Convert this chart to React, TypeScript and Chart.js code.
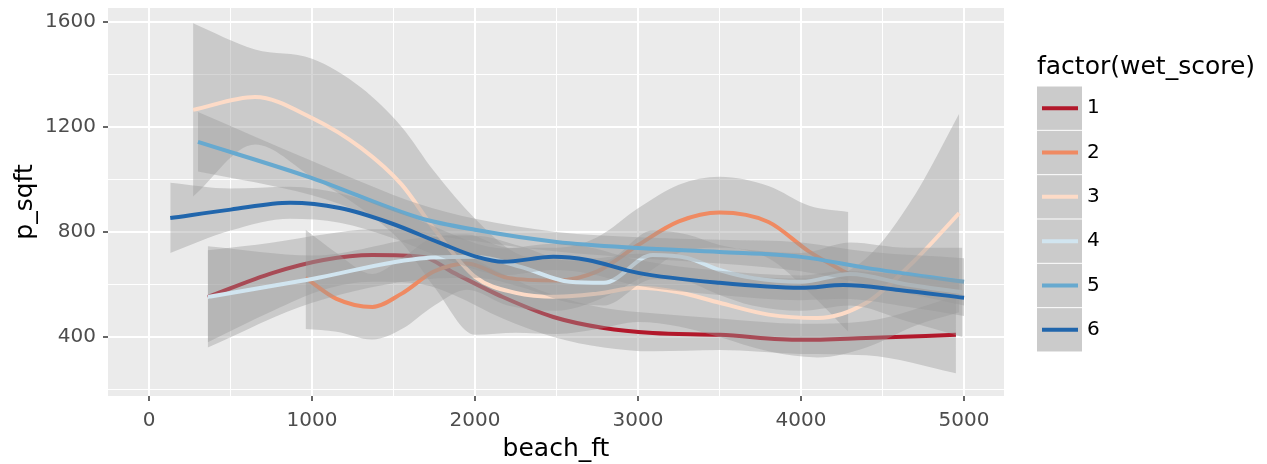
import React, { useEffect, useRef } from "react";
import { Chart, registerables } from "chart.js";

Chart.register(...registerables);

const FONT = '"DejaVu Sans", sans-serif';

// wet_score 1
const x1 = [360, 760, 1070, 1370, 1680, 1870, 2170, 2480, 2790, 3090, 3500, 4000, 4400, 4950];
const y1 = [552, 644, 693, 712, 705, 644, 552, 476, 434, 415, 408, 389, 396, 408];
const lo1 = [380, 500, 580, 610, 600, 560, 470, 400, 360, 345, 350, 335, 330, 262];
const hi1 = [730, 760, 790, 810, 800, 740, 640, 560, 510, 490, 470, 450, 460, 555];

// wet_score 2
const x2 = [960, 1150, 1370, 1550, 1750, 1950, 2200, 2500, 2750, 3000, 3250, 3500, 3800, 4050, 4290];
const y2 = [625, 545, 514, 565, 650, 680, 625, 615, 650, 750, 840, 874, 838, 725, 640];
const lo2 = [430, 420, 390, 430, 520, 580, 520, 500, 540, 620, 720, 740, 700, 570, 420];
const hi2 = [808, 720, 640, 700, 780, 790, 740, 740, 780, 890, 980, 1010, 975, 900, 876];

// wet_score 3
const x3 = [270, 650, 1000, 1300, 1550, 1750, 2000, 2250, 2500, 2750, 3000, 3250, 3500, 3800, 4100, 4400, 4700, 4970];
const y3 = [1265, 1314, 1234, 1120, 980, 810, 629, 568, 553, 565, 587, 570, 530, 485, 472, 530, 693, 872];
const lo3 = [935, 1133, 1008, 890, 760, 590, 408, 416, 411, 430, 457, 440, 400, 345, 322, 360, 443, 494];
const hi3 = [1595, 1495, 1460, 1350, 1200, 1030, 850, 720, 695, 700, 717, 700, 660, 625, 622, 700, 943, 1250];

// wet_score 4
const x4 = [360, 1000, 1700, 2000, 2280, 2580, 2790, 3090, 3300, 3500, 3700, 4000, 4300, 4650, 4990];
const y4 = [552, 621, 701, 705, 667, 610, 606, 712, 701, 655, 625, 610, 640, 600, 570];
const lo4 = [360, 530, 620, 625, 590, 530, 520, 620, 610, 560, 520, 500, 520, 460, 400];
const hi4 = [745, 710, 780, 785, 745, 690, 690, 805, 790, 750, 730, 720, 760, 740, 740];

// wet_score 5
const x5 = [300, 1000, 1660, 2000, 2500, 3000, 3500, 4000, 4400, 5000];
const y5 = [1143, 1005, 853, 808, 762, 739, 724, 705, 663, 610];
const lo5 = [1030, 940, 800, 765, 725, 700, 680, 650, 600, 520];
const hi5 = [1257, 1070, 905, 850, 800, 780, 770, 760, 725, 700];

// wet_score 6
const x6 = [130, 500, 865, 1170, 1480, 1785, 2010, 2170, 2480, 2690, 3000, 3500, 4000, 4260, 4600, 5000];
const y6 = [853, 885, 911, 891, 834, 758, 705, 686, 705, 693, 644, 606, 587, 598, 579, 549];
const lo6 = [720, 805, 850, 835, 780, 705, 655, 635, 655, 643, 595, 560, 540, 545, 520, 480];
const hi6 = [987, 965, 972, 947, 888, 811, 755, 737, 755, 743, 693, 652, 634, 651, 638, 618];

const labels = ["1", "2", "3", "4", "5", "6"];
const colors = ["#B2182B", "#EF8A62", "#FDDBC7", "#D1E5F0", "#67A9CF", "#2166AC"];
const xTicksMajor = [0, 1000, 2000, 3000, 4000, 5000];
const xTicksAll = [0, 500, 1000, 1500, 2000, 2500, 3000, 3500, 4000, 4500, 5000];
const yTicksMajor = [400, 800, 1200, 1600];
const yTicksAll = [200, 400, 600, 800, 1000, 1200, 1400, 1600];

const seriesX = [x1, x2, x3, x4, x5, x6];
const seriesY = [y1, y2, y3, y4, y5, y6];
const seriesLo = [lo1, lo2, lo3, lo4, lo5, lo6];
const seriesHi = [hi1, hi2, hi3, hi4, hi5, hi6];

const BAND = "rgba(153,153,153,0.4)";

const pts = (xs: number[], ys: number[]) => xs.map((x, j) => ({ x, y: ys[j] }));

function buildDatasets() {
  const ds: any[] = [];
  labels.forEach((lab, i) => {
    const base = ds.length;
    const ord = 100 - i * 3;
    ds.push({
      label: "hi" + lab,
      data: pts(seriesX[i], seriesHi[i]),
      borderWidth: 0,
      borderColor: "rgba(0,0,0,0)",
      pointRadius: 0,
      fill: false,
      cubicInterpolationMode: "monotone",
      order: ord,
    });
    ds.push({
      label: "lo" + lab,
      data: pts(seriesX[i], seriesLo[i]),
      borderWidth: 0,
      borderColor: "rgba(0,0,0,0)",
      backgroundColor: BAND,
      pointRadius: 0,
      fill: base,
      cubicInterpolationMode: "monotone",
      order: ord - 1,
    });
    ds.push({
      label: lab,
      data: pts(seriesX[i], seriesY[i]),
      borderColor: colors[i],
      borderWidth: 4,
      pointRadius: 0,
      fill: false,
      cubicInterpolationMode: "monotone",
      order: ord - 2,
    });
  });
  return ds;
}

const ggPlugin = {
  id: "ggstyle",
  beforeDraw(chart: any) {
    const { ctx, chartArea: a } = chart;
    ctx.save();
    ctx.fillStyle = "#EBEBEB";
    ctx.fillRect(a.left, a.top, a.right - a.left, a.bottom - a.top);
    ctx.restore();
  },
  afterDraw(chart: any) {
    const ctx = chart.ctx;
    const lx = 1037;
    const ly0 = 86;
    const kh = 44.33;
    const kw = 45;
    ctx.save();
    ctx.fillStyle = "#000000";
    ctx.font = `25px ${FONT}`;
    ctx.textBaseline = "alphabetic";
    ctx.textAlign = "left";
    ctx.fillText("factor(wet_score)", lx, 74);
    labels.forEach((lab, i) => {
      const y = ly0 + i * kh;
      ctx.fillStyle = "#CBCBCB";
      ctx.fillRect(lx, y + 0.5, kw, kh - 1);
      ctx.strokeStyle = colors[i];
      ctx.lineWidth = 4;
      ctx.beginPath();
      ctx.moveTo(lx + 5, y + kh / 2);
      ctx.lineTo(lx + kw - 4, y + kh / 2);
      ctx.stroke();
      ctx.fillStyle = "#000000";
      ctx.font = `20px ${FONT}`;
      ctx.textBaseline = "middle";
      ctx.fillText(lab, 1087, y + kh / 2);
    });
    ctx.restore();
  },
};

export default function App() {
  const ref = useRef<HTMLCanvasElement>(null);
  useEffect(() => {
    if (!ref.current) return;
    const isMajorX = (v: number) => xTicksMajor.includes(v);
    const isMajorY = (v: number) => yTicksMajor.includes(v);
    const chart = new Chart(ref.current, {
      type: "line",
      data: { datasets: buildDatasets() },
      plugins: [ggPlugin],
      options: {
        animation: false,
        responsive: false,
        maintainAspectRatio: false,
        layout: { padding: { top: 8, right: 263, bottom: 0, left: 0 } },
        plugins: { legend: { display: false }, tooltip: { enabled: false } },
        elements: { line: { borderCapStyle: "butt" } },
        scales: {
          x: {
            type: "linear",
            min: -252,
            max: 5245,
            afterBuildTicks: (s: any) => {
              s.ticks = xTicksAll.map((v) => ({ value: v }));
            },
            afterFit: (s: any) => {
              s.height = 68;
              s.paddingLeft = 0;
              s.paddingRight = 0;
            },
            border: { display: false },
            grid: {
              color: "#FFFFFF",
              lineWidth: (c: any) => (c.tick && isMajorX(c.tick.value) ? 2 : 1),
              drawTicks: true,
              tickLength: 5,
              tickWidth: 1.5,
              tickColor: (c: any) => (c.tick && isMajorX(c.tick.value) ? "#333333" : "rgba(0,0,0,0)"),
            },
            ticks: {
              autoSkip: false,
              maxRotation: 0,
              padding: 8,
              color: "#4D4D4D",
              font: { family: FONT, size: 20 },
              callback: (v: any) => (isMajorX(Number(v)) ? String(v) : ""),
            },
            title: {
              display: true,
              text: "beach_ft",
              color: "#000000",
              font: { family: FONT, size: 25 },
              padding: { top: 0, bottom: 0 },
            },
          },
          y: {
            type: "linear",
            min: 175,
            max: 1653,
            afterBuildTicks: (s: any) => {
              s.ticks = yTicksAll.map((v) => ({ value: v }));
            },
            afterFit: (s: any) => {
              s.width = 108;
              s.paddingTop = 0;
              s.paddingBottom = 0;
            },
            border: { display: false },
            grid: {
              color: "#FFFFFF",
              lineWidth: (c: any) => (c.tick && isMajorY(c.tick.value) ? 2 : 1),
              drawTicks: true,
              tickLength: 5,
              tickWidth: 1.5,
              tickColor: (c: any) => (c.tick && isMajorY(c.tick.value) ? "#333333" : "rgba(0,0,0,0)"),
            },
            ticks: {
              autoSkip: false,
              padding: 7,
              color: "#4D4D4D",
              font: { family: FONT, size: 20 },
              callback: (v: any) => (isMajorY(Number(v)) ? String(v) : ""),
            },
            title: {
              display: true,
              text: "p_sqft",
              color: "#000000",
              font: { family: FONT, size: 25 },
              padding: { top: 10, bottom: 0 },
            },
          },
        },
      },
    });
    return () => chart.destroy();
  }, []);
  return (
    <div style={{ position: "absolute", left: 0, top: 0, width: 1267, height: 464 }}>
      <canvas ref={ref} width={1267} height={464} style={{ width: 1267, height: 464 }} />
    </div>
  );
}
